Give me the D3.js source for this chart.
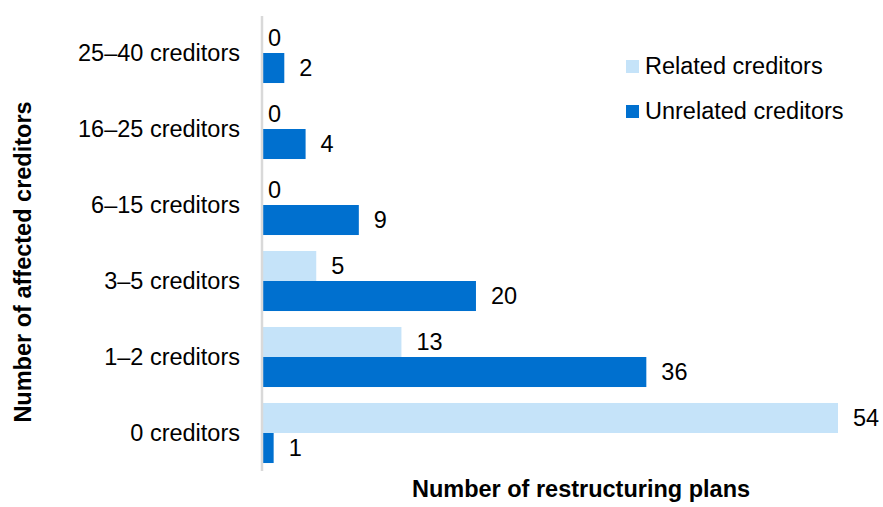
<!DOCTYPE html>
<html>
<head>
<meta charset="utf-8">
<script src="https://cdn.jsdelivr.net/npm/d3@7"></script>
<style>
  html, body { margin: 0; padding: 0; background: #fff; }
  svg { display: block; font-family: Arial, "Liberation Sans", sans-serif; }
</style>
</head>
<body>
<div id="chart"></div>
<script>
// Number of affected creditors per restructuring plan, split by relationship
const categories = ["25–40 creditors", "16–25 creditors", "6–15 creditors", "3–5 creditors", "1–2 creditors", "0 creditors"];
const relatedValues = [0, 0, 0, 5, 13, 54];
const unrelatedValues = [2, 4, 9, 20, 36, 1];
const seriesNames = ["Related creditors", "Unrelated creditors"];
const seriesColors = ["#c5e3f9", "#0070cf"];

const width = 883, height = 507;
const fontSize = 23.5;

const svg = d3.select("#chart").append("svg")
  .attr("width", width)
  .attr("height", height);

const x = d3.scaleLinear().domain([0, 54]).range([263, 838]);

const y = d3.scaleBand()
  .domain(categories)
  .range([15, 471])
  .paddingInner(0.21)
  .paddingOuter(0.105);

const ySub = d3.scaleBand()
  .domain([0, 1])
  .range([0, y.bandwidth()]);

const rows = categories.map((c, i) => ({
  category: c,
  values: [relatedValues[i], unrelatedValues[i]]
}));

const groups = svg.append("g")
  .selectAll("g")
  .data(rows)
  .join("g")
  .attr("transform", d => `translate(0,${y(d.category)})`);

const cells = groups.selectAll("g")
  .data(d => d.values.map((v, s) => ({ v, s })))
  .join("g");

cells.append("rect")
  .attr("x", x(0))
  .attr("y", d => ySub(d.s))
  .attr("width", d => x(d.v) - x(0))
  .attr("height", ySub.bandwidth())
  .attr("fill", d => seriesColors[d.s]);

cells.append("text")
  .attr("x", d => x(d.v) + (d.v === 0 ? 5 : 15))
  .attr("y", d => ySub(d.s) + ySub.bandwidth() / 2)
  .attr("dy", "0.36em")
  .attr("font-size", fontSize)
  .attr("fill", "#000")
  .text(d => d.v);

// Category axis: labels only, with a light vertical baseline
const yAxis = svg.append("g")
  .attr("transform", `translate(${x(0) - 1},0)`)
  .call(d3.axisLeft(y).tickSize(0).tickPadding(22));
yAxis.select(".domain")
  .attr("d", `M0,16V471`)
  .attr("stroke", "#d9d9d9")
  .attr("stroke-width", 2.5);
yAxis.selectAll("text")
  .attr("font-size", fontSize)
  .attr("font-family", "Arial, 'Liberation Sans', sans-serif")
  .attr("fill", "#000");

// Axis titles
svg.append("text")
  .attr("x", 581)
  .attr("y", 497)
  .attr("text-anchor", "middle")
  .attr("font-size", fontSize)
  .attr("font-weight", "bold")
  .text("Number of restructuring plans");

svg.append("text")
  .attr("transform", "translate(31,262) rotate(-90)")
  .attr("text-anchor", "middle")
  .attr("font-size", fontSize)
  .attr("font-weight", "bold")
  .text("Number of affected creditors");

// Legend
const legend = svg.append("g")
  .selectAll("g")
  .data(seriesNames)
  .join("g")
  .attr("transform", (d, i) => `translate(626,${60 + i * 45})`);

legend.append("rect")
  .attr("width", 13)
  .attr("height", 13)
  .attr("fill", (d, i) => seriesColors[i]);

legend.append("text")
  .attr("x", 19)
  .attr("y", 14)
  .attr("font-size", fontSize)
  .attr("fill", "#000")
  .text(d => d);
</script>
</body>
</html>
